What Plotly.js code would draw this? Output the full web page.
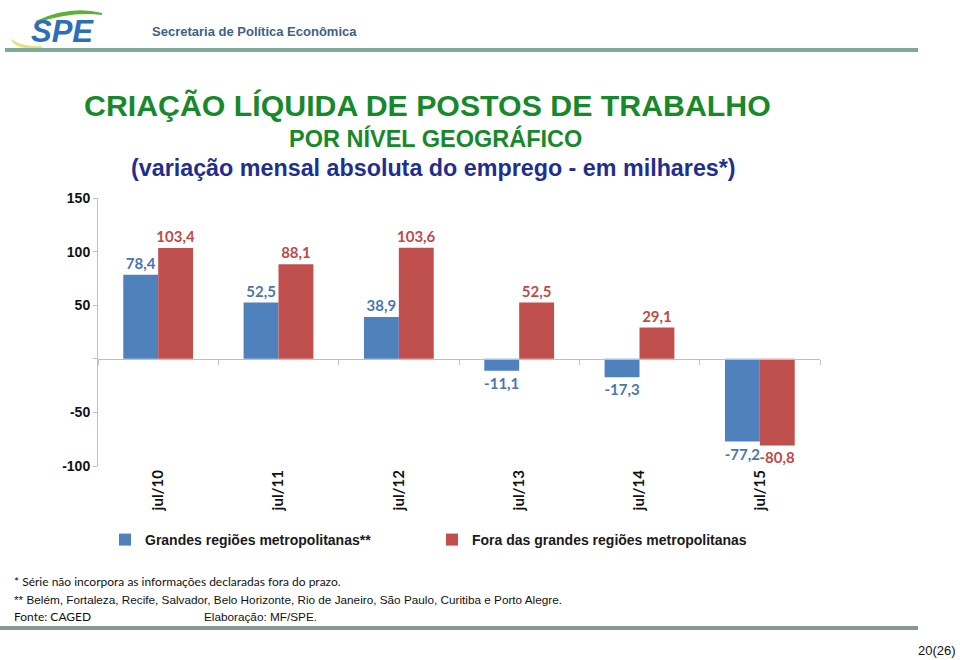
<!DOCTYPE html>
<html>
<head>
<meta charset="utf-8">
<script src="https://cdn.plot.ly/plotly-3.0.1.min.js"></script>
<style>html,body{margin:0;padding:0;background:#fff;}#chart{width:960px;height:660px;}</style>
</head>
<body>
<div id="chart"></div>
<script>
// ---- data ----
const categories = ['jul/10','jul/11','jul/12','jul/13','jul/14','jul/15'];
const metroValues = [78.4, 52.5, 38.9, -11.1, -17.3, -77.2];
const outsideValues = [103.4, 88.1, 103.6, 52.5, 29.1, -80.8];
const seriesNames = ['Grandes regiões metropolitanas**', 'Fora das grandes regiões metropolitanas'];
const yTickVals = [-100, -50, 0, 50, 100, 150];
const yTickText = ['-100', '-50', '', '50', '100', '150'];
const titleLines = ['CRIAÇÃO LÍQUIDA DE POSTOS DE TRABALHO', 'POR NÍVEL GEOGRÁFICO', '(variação mensal absoluta do emprego - em milhares*)'];
const footnotes = ['* Série não incorpora as informações declaradas fora do prazo.',
  '** Belém, Fortaleza, Recife, Salvador, Belo Horizonte, Rio de Janeiro, São Paulo, Curitiba e Porto Alegre.',
  'Fonte: CAGED', 'Elaboração: MF/SPE.'];

// ---- layout helpers (pixel -> paper) ----
const L = 98, T = 198, W = 722, H = 268;
const px = x => (x - L) / W;
const py = y => (T + H - y) / H;

const BLUE = '#4F81BD', RED = '#C0504D';

const traces = [
  {type:'bar', name: seriesNames[0], x: categories, y: metroValues,
   marker:{color: BLUE}, texttemplate:'%{y:.1f}', textposition:'outside', constraintext:'none',
   cliponaxis:false, textfont:{family:'Lato, sans-serif', size:15, color:'#4A76AE', weight:'bold'}, hoverinfo:'x+y'},
  {type:'bar', name: seriesNames[1], x: categories, y: outsideValues,
   marker:{color: RED}, texttemplate:'%{y:.1f}', textposition:'outside', constraintext:'none',
   cliponaxis:false, textfont:{family:'Lato, sans-serif', size:15, color:'#BE4B48', weight:'bold'}, hoverinfo:'x+y'},
  {type:'scatter', mode:'markers', x: categories, y: metroValues, xaxis:'x2', yaxis:'y',
   marker:{opacity:0}, showlegend:false, hoverinfo:'skip'}
];

const ann = [];
const A = (text, x, y, font, xanchor) => ann.push({text, xref:'paper', yref:'paper', x:px(x), y:py(y),
  xanchor: xanchor || 'center', yanchor:'middle', showarrow:false, font});

A(titleLines[0], 427, 105, {family:'Liberation Sans, Arial', size:30.3, color:'#17892B', weight:'bold'});
A(titleLines[1], 435, 138, {family:'Liberation Sans, Arial', size:23.5, color:'#17892B', weight:'bold'});
A(titleLines[2], 433, 168, {family:'Liberation Sans, Arial', size:23.3, color:'#1F2F8F', weight:'bold'});
A('Secretaria de Política Econômica', 150, 31, {family:'Liberation Sans, Arial', size:13, color:'#3F5F85', weight:'bold'}, 'left');
A('<i>SPE</i>', 62, 31, {family:'Liberation Sans, Arial', size:31, color:'#2D6EB8', weight:'bold'});
A(footnotes[0], 12, 581, {family:'Lato, sans-serif', size:12, color:'#111'}, 'left');
A(footnotes[1], 12, 599, {family:'Liberation Sans, Arial', size:11.75, color:'#111'}, 'left');
A(footnotes[2], 12, 616, {family:'Lato, sans-serif', size:12, color:'#111'}, 'left');
A(footnotes[3], 202, 616, {family:'Liberation Sans, Arial', size:11.75, color:'#111'}, 'left');
A('20(26)', 958, 650, {family:'Liberation Sans, Arial', size:13, color:'#111'}, 'right');

const shapes = [
  {type:'line', xref:'paper', yref:'paper', x0:px(5), x1:px(918), y0:py(50), y1:py(50), line:{color:'#7FA898', width:4}},
  {type:'line', xref:'paper', yref:'paper', x0:px(0), x1:px(918), y0:py(628), y1:py(628), line:{color:'#879893', width:4}},
  // logo swooshes
  {type:'path', xref:'paper', yref:'paper', layer:'below',
   path:`M ${px(36)} ${py(22)} Q ${px(70)} ${py(6)} ${px(102)} ${py(14)} Q ${px(72)} ${py(10)} ${px(36)} ${py(22)} Z`,
   fillcolor:'#5DB13A', line:{color:'#5DB13A', width:2}},
  {type:'path', xref:'paper', yref:'paper', layer:'below',
   path:`M ${px(12)} ${py(40)} Q ${px(18)} ${py(50)} ${px(42)} ${py(47)} Q ${px(20)} ${py(47)} ${px(12)} ${py(40)} Z`,
   fillcolor:'#E6E07A', line:{color:'#E6E07A', width:1.5}}
];

const layout = {
  width:960, height:660,
  margin:{l:L, r:960-L-W, t:T, b:660-T-H, pad:0},
  paper_bgcolor:'#fff', plot_bgcolor:'#fff',
  separators:',.',
  barmode:'group', bargap:0.42, bargroupgap:0,
  showlegend:true,
  legend:{orientation:'h', x:px(105), y:py(540), xanchor:'left', yanchor:'middle',
    font:{family:'Liberation Sans, Arial', size:14, color:'#1a1a1a', weight:'bold'},
    entrywidthmode:'pixels', entrywidth:282, traceorder:'normal'},
  xaxis:{type:'category', range:[-0.5,5.5], showline:false, ticks:'', tickangle:-90,
    tickfont:{family:'Lato, sans-serif', size:15, color:'#111', weight:'bold'}, showgrid:false, zeroline:false, fixedrange:true},
  xaxis2:{type:'category', overlaying:'x', anchor:'free', position:py(359), range:[-0.5,5.5],
    categoryarray:categories, categoryorder:'array',
    showline:true, linecolor:'#BFBFBF', linewidth:1, ticks:'outside', tickson:'boundaries', ticklen:5,
    tickcolor:'#BFBFBF', showticklabels:false, showgrid:false, zeroline:false},
  yaxis:{range:[-100,150], tickvals:yTickVals, ticktext:yTickText, showline:true, linecolor:'#BFBFBF',
    ticks:'outside', ticklen:4, tickcolor:'#BFBFBF', showgrid:false, zeroline:false,
    tickfont:{family:'Liberation Sans, Arial', size:14, color:'#111', weight:'bold'}},
  annotations: ann,
  shapes: shapes
};

Plotly.newPlot('chart', traces, layout, {displayModeBar:false, staticPlot:true});
</script>
</body>
</html>
